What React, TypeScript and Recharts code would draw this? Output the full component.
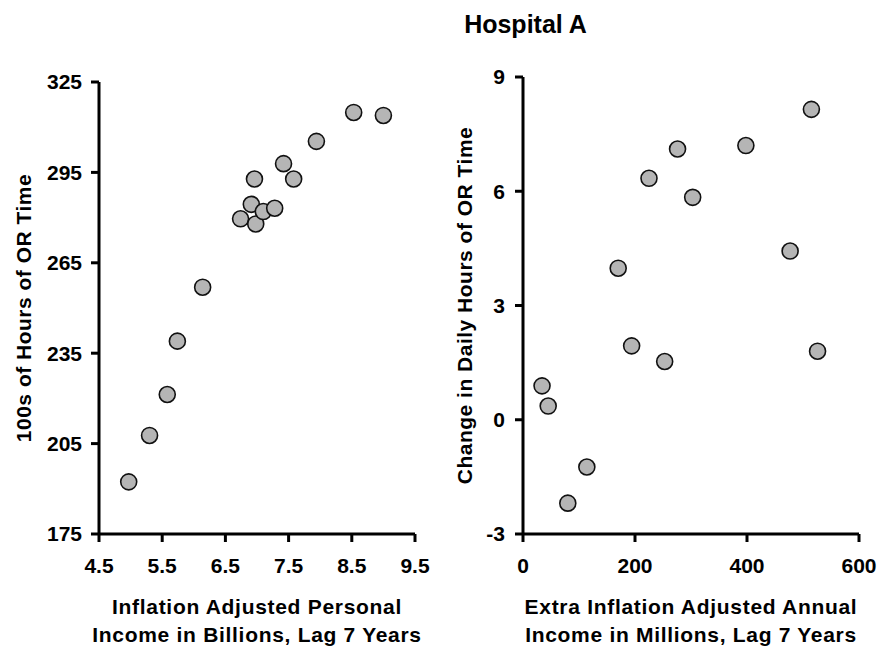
import React from 'react';
import { ScatterChart, Scatter, XAxis, YAxis } from 'recharts';

// left panel: personal income (billions) vs OR hours (100s)
const leftIncome = [4.97, 5.3, 5.58, 5.74, 6.14, 6.74, 6.91, 6.96, 6.98, 7.1, 7.28, 7.42, 7.58, 7.94, 8.53, 9.0];
const leftHours = [192.3, 207.7, 221.3, 239.0, 256.9, 279.6, 284.4, 292.8, 277.9, 282.0, 283.1, 297.9, 292.8, 305.3, 314.9, 313.9];
const leftXTicks = [4.5, 5.5, 6.5, 7.5, 8.5, 9.5];
const leftYTicks = [175, 205, 235, 265, 295, 325];

// right panel: extra income (millions) vs change in daily OR hours
const rightIncome = [34, 45, 80, 114, 170, 194, 225, 253, 276, 303, 398, 477, 515, 526];
const rightChange = [0.89, 0.36, -2.19, -1.24, 3.98, 1.94, 6.34, 1.53, 7.11, 5.84, 7.2, 4.43, 8.15, 1.8];
const rightXTicks = [0, 200, 400, 600];
const rightYTicks = [-3, 0, 3, 6, 9];

const leftData = leftIncome.map((x, i) => ({ x, y: leftHours[i] }));
const rightData = rightIncome.map((x, i) => ({ x, y: rightChange[i] }));

const FONT = '"Liberation Sans", Arial, sans-serif';
const tickStyle = { fill: '#000', fontSize: 21, fontWeight: 700, fontFamily: FONT };
const axisLine = { stroke: '#000', strokeWidth: 3 };

const Dot = (p: any) => <circle cx={p.cx} cy={p.cy} r={8} fill="#b5b5b5" stroke="#111" strokeWidth={1.6} />;

const xLabel = (lines: string[]) => (props: any) => {
  const vb = props.viewBox;
  const cx = vb.x + vb.width / 2;
  return (
    <text textAnchor="middle" fontFamily={FONT} fontSize={21} fontWeight={700} letterSpacing={0.7} fill="#000">
      <tspan x={cx} y={vb.y + 80}>{lines[0]}</tspan>
      <tspan x={cx} y={vb.y + 108}>{lines[1]}</tspan>
    </text>
  );
};

const yLabel = (text: string, x: number) => (props: any) => {
  const vb = props.viewBox;
  const cy = vb.y + vb.height / 2;
  return (
    <text
      x={x}
      y={cy}
      transform={`rotate(-90, ${x}, ${cy})`}
      textAnchor="middle"
      fontFamily={FONT}
      fontSize={21}
      fontWeight={700}
      letterSpacing={0.5}
      fill="#000"
    >
      {text}
    </text>
  );
};

export default function App() {
  return (
    <div style={{ position: 'absolute', left: 0, top: 0, width: 881, height: 648, background: '#fff' }}>
      <div
        style={{
          position: 'absolute',
          left: 0,
          width: 881,
          top: 12,
          textAlign: 'center',
          paddingLeft: 170,
          boxSizing: 'border-box',
          fontFamily: FONT,
          fontWeight: 700,
          fontSize: 25,
          lineHeight: 1,
        }}
      >
        Hospital A
      </div>
      <div style={{ position: 'absolute', left: 0, top: 0 }}>
        <ScatterChart width={440} height={648} margin={{ top: 82, right: 25, left: 0, bottom: 0 }}>
          <XAxis
            type="number"
            dataKey="x"
            domain={[4.5, 9.5]}
            ticks={leftXTicks}
            tickFormatter={(v) => v.toFixed(1)}
            height={114}
            axisLine={axisLine}
            tickLine={axisLine}
            tickSize={8}
            tickMargin={16}
            tick={tickStyle}
            label={xLabel(['Inflation Adjusted Personal', 'Income in Billions, Lag 7 Years'])}
          />
          <YAxis
            type="number"
            dataKey="y"
            domain={[175, 325]}
            ticks={leftYTicks}
            width={99}
            axisLine={axisLine}
            tickLine={axisLine}
            tickSize={8}
            tickMargin={9}
            tick={tickStyle}
            label={yLabel('100s of Hours of OR Time', 31)}
          />
          <Scatter data={leftData} shape={Dot} isAnimationActive={false} />
        </ScatterChart>
      </div>
      <div style={{ position: 'absolute', left: 440, top: 0 }}>
        <ScatterChart width={441} height={648} margin={{ top: 77, right: 22, left: 0, bottom: 0 }}>
          <XAxis
            type="number"
            dataKey="x"
            domain={[0, 600]}
            ticks={rightXTicks}
            height={114}
            axisLine={axisLine}
            tickLine={axisLine}
            tickSize={8}
            tickMargin={16}
            tick={tickStyle}
            label={xLabel(['Extra Inflation Adjusted Annual', 'Income in Millions, Lag 7 Years'])}
          />
          <YAxis
            type="number"
            dataKey="y"
            domain={[-3, 9]}
            ticks={rightYTicks}
            width={83}
            axisLine={axisLine}
            tickLine={axisLine}
            tickSize={8}
            tickMargin={10}
            tick={tickStyle}
            label={yLabel('Change in Daily Hours of OR Time', 32)}
          />
          <Scatter data={rightData} shape={Dot} isAnimationActive={false} />
        </ScatterChart>
      </div>
    </div>
  );
}
